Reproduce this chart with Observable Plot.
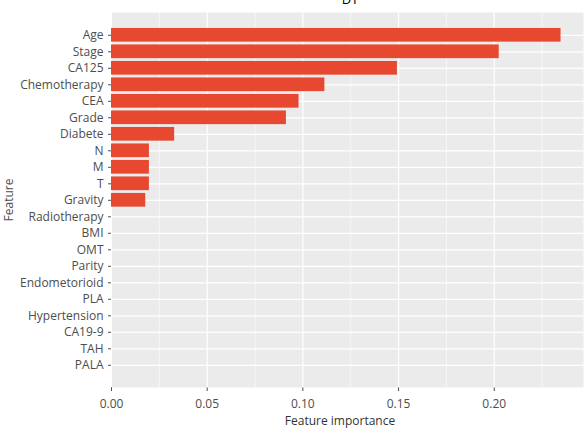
<!DOCTYPE html>
<html>
<head>
<meta charset="utf-8">
<script src="https://cdn.jsdelivr.net/npm/d3@7"></script>
<script src="https://cdn.jsdelivr.net/npm/@observablehq/plot@0.6"></script>
<style>
  html, body { margin: 0; padding: 0; background: #ffffff; }
  #wrap { position: relative; width: 584px; height: 429px; overflow: hidden; font-family: "Open Sans", sans-serif; }
  #title { position: absolute; left: 111px; width: 478px; top: -7px; text-align: center; font-size: 13px; line-height: 13px; color: #000; }
  #xlabel { position: absolute; left: 111px; width: 458px; top: 413px; text-align: center; font-size: 12px; line-height: 16px; color: #333; }
  #chart { position: absolute; left: 0; top: 0; }
</style>
</head>
<body>
<div id="wrap">
  <div id="chart"></div>
  <div id="title">DT</div>
  <div id="xlabel">Feature importance</div>
</div>
<script>
const features = ["Age","Stage","CA125","Chemotherapy","CEA","Grade","Diabete","N","M","T","Gravity","Radiotherapy","BMI","OMT","Parity","Endometorioid","PLA","Hypertension","CA19-9","TAH","PALA"];
const importance = [0.2349,0.2026,0.1494,0.1115,0.0980,0.0914,0.0330,0.0198,0.0198,0.0198,0.0179,0,0,0,0,0,0,0,0,0,0];
const xTicks = [0, 0.05, 0.10, 0.15, 0.20];
const xMinor = [0.025, 0.075, 0.125, 0.175, 0.225];

const data = features.map((f, i) => ({feature: f, value: importance[i]}));
const xMax = d3.max(importance) * 1.05;

const plot = Plot.plot({
  width: 584,
  height: 429,
  marginLeft: 111,
  marginRight: 1,
  marginTop: 12,
  marginBottom: 42,
  style: {fontFamily: "Open Sans, sans-serif", fontSize: "12px", color: "#4d4d4d", background: "transparent"},
  x: {
    domain: [0, xMax],
    ticks: xTicks,
    tickFormat: d3.format(".2f"),
    tickSize: 4,
    tickPadding: 8,
    label: null
  },
  y: {
    domain: features,
    range: [27.95, 371.65],
    round: false,
    paddingInner: 0.17,
    paddingOuter: 0,
    tickSize: 3,
    tickPadding: 5,
    label: "Feature",
    labelAnchor: "center",
    labelOffset: 107
  },
  marks: [
    Plot.frame({fill: "#EBEBEB", stroke: null}),
    Plot.ruleX(xMinor, {stroke: "#ffffff", strokeWidth: 0.6}),
    Plot.ruleX(xTicks, {stroke: "#ffffff", strokeWidth: 1.2}),
    Plot.ruleY(features, {y: d => d, stroke: "#ffffff", strokeWidth: 1.2}),
    Plot.barX(data, {x: "value", y: "feature", fill: "#E74830"})
  ]
});
document.getElementById("chart").appendChild(plot);
</script>
</body>
</html>
